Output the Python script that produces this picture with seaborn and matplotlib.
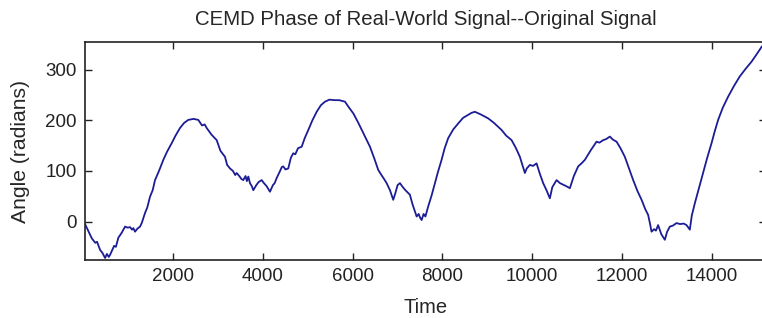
import matplotlib
matplotlib.use("Agg")
import matplotlib.pyplot as plt
import seaborn as sns
import pandas as pd

# Values
time = [32, 100, 181, 260, 300, 367, 420, 478, 520, 560, 589, 680, 720, 774,
        850, 924, 980, 1035, 1080, 1110, 1146, 1200, 1258, 1300, 1369, 1420,
        1480, 1540, 1592, 1680, 1777, 1860, 1964, 2050, 2149, 2240, 2334, 2450,
        2557, 2640, 2700, 2744, 2850, 2967, 3050, 3152, 3200, 3264, 3330, 3380,
        3413, 3470, 3520, 3560, 3610, 3640, 3672, 3709, 3750, 3783, 3850, 3900,
        3970, 4020, 4080, 4155, 4220, 4260, 4304, 4380, 4420, 4452, 4500, 4563,
        4620, 4674, 4720, 4780, 4862, 4930, 5009, 5100, 5196, 5290, 5381, 5480,
        5604, 5700, 5827, 5920, 6012, 6120, 6235, 6300, 6384, 6480, 6569, 6640,
        6700, 6756, 6830, 6903, 6950, 7000, 7053, 7100, 7164, 7220, 7275, 7330,
        7380, 7425, 7470, 7500, 7536, 7580, 7620, 7683, 7760, 7832, 7900, 7981,
        8050, 8129, 8240, 8352, 8460, 8575, 8650, 8724, 8850, 9020, 9150, 9319,
        9420, 9542, 9640, 9727, 9790, 9838, 9880, 9950, 10020, 10099, 10170,
        10246, 10320, 10395, 10450, 10545, 10620, 10692, 10760, 10841, 10930,
        11026, 11100, 11176, 11300, 11436, 11500, 11584, 11650, 11733, 11800,
        11882, 11970, 12067, 12160, 12253, 12350, 12440, 12520, 12587, 12630,
        12662, 12720, 12760, 12809, 12880, 12959, 13010, 13070, 13140, 13219,
        13300, 13380, 13442, 13516, 13560, 13627, 13700, 13812, 13900, 14000,
        14070, 14147, 14250, 14370, 14500, 14630, 14760, 14891, 15000, 15121,
        15200]
angle = [-5, -18, -33, -42, -40, -56, -62, -72, -64, -70, -66, -48, -50, -32,
         -22, -10, -12, -11, -16, -13, -20, -14, -10, -2, 17, 28,
         49, 62, 82, 100, 122, 138, 155, 170, 185, 195, 201, 203,
         201, 190, 192, 185, 172, 161, 140, 128, 112, 105, 100, 92,
         96, 90, 84, 82, 90, 80, 89, 76, 70, 62, 72, 78,
         82, 76, 70, 59, 72, 76, 86, 100, 108, 109, 103, 105,
         126, 135, 133, 145, 148, 165, 181, 200, 217, 230, 237, 241,
         240, 240, 237, 225, 214, 196, 175, 163, 148, 125, 102, 92,
         84, 76, 62, 43, 56, 72, 76, 70, 63, 58, 53, 35,
         22, 10, 15, 8, 3, 15, 10, 30, 52, 76, 98, 122,
         145, 165, 182, 194, 205, 211, 215, 217, 212, 204, 195, 181,
         170, 161, 145, 128, 110, 96, 105, 112, 110, 115, 95,
         76, 62, 46, 68, 82, 76, 73, 70, 66, 90,
         109, 115, 122, 140, 158, 156, 161, 163, 168, 162,
         158, 145, 128, 105, 82, 60, 43, 25, 13, -5,
         -20, -15, -18, -7, -25, -36, -20, -10, -8, -3,
         -5, -4, -7, -16, 12, 36, 60, 96, 125, 155,
         178, 201, 225, 247, 268, 287, 302, 316, 330, 346,
         352]

xticks = [2000, 4000, 6000, 8000, 10000, 12000, 14000]
yticks = [0, 100, 200, 300]

df = pd.DataFrame({"Time": time, "Angle": angle})

sns.set_style("ticks")
plt.rcParams["font.family"] = ["Liberation Sans", "DejaVu Sans"]

fig = plt.figure(figsize=(7.62, 3.18), dpi=100)
ax = fig.add_axes([0.1115, 0.1824, 0.8935, 0.6855])

sns.lineplot(data=df, x="Time", y="Angle", ax=ax, color="#1c1c96", linewidth=1.3)

ax.set_xlim(30, 15210)
ax.set_ylim(-76, 355)
ax.set_xticks(xticks)
ax.set_yticks(yticks)
ax.tick_params(direction="in", length=5, width=1, labelsize=13.5, colors="#222222",
               top=True, right=True, pad=6)
for s in ax.spines.values():
    s.set_linewidth(1.2)
    s.set_color("#222222")

ax.set_title("CEMD Phase of Real-World Signal--Original Signal", fontsize=14.7, pad=12)
ax.set_xlabel("Time", fontsize=14.5, labelpad=9)
ax.set_ylabel("Angle (radians)", fontsize=15.2)
ax.yaxis.set_label_coords(-0.08, 0.5)

fig.savefig("out.png", dpi=100, facecolor="white")
